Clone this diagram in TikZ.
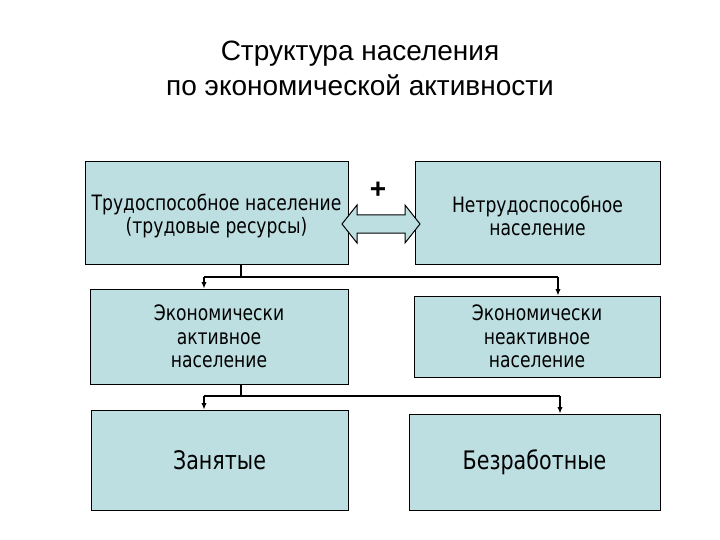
\documentclass[tikz,border=0pt]{standalone}
\usepackage{fontspec}
\setmainfont{Liberation Sans}
\newfontfamily\boxfont[FakeStretch=0.81]{DejaVu Sans}
\usetikzlibrary{arrows.meta}
\definecolor{boxfill}{RGB}{190,223,226}
\begin{document}
\begin{tikzpicture}[x=1pt,y=-1pt,
  box/.style={draw=black,line width=1pt,fill=boxfill,rectangle,align=center,inner sep=0pt,
    font=\boxfont\fontsize{21.2}{23.5}\selectfont},
  bigbox/.style={box,font=\boxfont\fontsize{25.5}{30}\selectfont},
  conn/.style={line width=1.2pt,draw=black},
  arr/.style={conn,-{Latex[length=6.5pt,width=5.5pt]}}]
\useasboundingbox (0,0) rectangle (720,540);
\node[font=\fontsize{28}{35}\selectfont,align=center] (title) at (360,68) {Структура населения\\по экономической активности};
\node[box,minimum width=263pt,minimum height=102pt] (b1) at (216.5,213) {\rule{0pt}{22pt}Трудоспособное население\\(трудовые ресурсы)};
\node[box,minimum width=245pt,minimum height=102pt] (b2) at (537.5,213) {\rule{0pt}{22pt}Нетрудоспособное\\население};
\node[box,minimum width=258pt,minimum height=95pt] (b3) at (219,336.5) {Экономически\\активное\\население};
\node[box,minimum width=246pt,minimum height=81pt] (b4) at (537,336.5) {Экономически\\неактивное\\население};
\node[bigbox,minimum width=257pt,minimum height=100pt] (b5) at (219.5,460) {Занятые};
\node[bigbox,minimum width=251pt,minimum height=96pt] (b6) at (534.5,462) {Безработные};
% double arrow between b1 and b2
\coordinate (dl) at (342,224);
\coordinate (dr) at (420,224);
\draw[line width=1pt,fill=boxfill] (dl) -- ++(15,-19) -- ++(0,10) -- ++(48,0) -- ++(0,-10)
  -- (dr) -- ++(-15,19) -- ++(0,-10) -- ++(-48,0) -- ++(0,10) -- cycle;
\node[font=\bfseries\fontsize{28}{28}\selectfont] (plus) at (378,190) {+};
% connectors upper
\coordinate (ja) at (241,277);
\coordinate (jal) at (204,277);
\coordinate (jar) at (558,277);
\draw[conn] (ja |- b1.south) -- (ja);
\draw[conn] (jal) -- (jar);
\draw[arr] (jal) -- (jal |- b3.north);
\draw[arr] (jar) -- (jar |- b4.north);
% connectors lower
\coordinate (jb) at (241,396);
\coordinate (jbl) at (204,396);
\coordinate (jbr) at (560,396);
\draw[conn] (jb |- b3.south) -- (jb);
\draw[conn] (jbl) -- (jbr);
\draw[arr] (jbl) -- (jbl |- b5.north);
\draw[arr] (jbr) -- (jbr |- b6.north);
\end{tikzpicture}
\end{document}
